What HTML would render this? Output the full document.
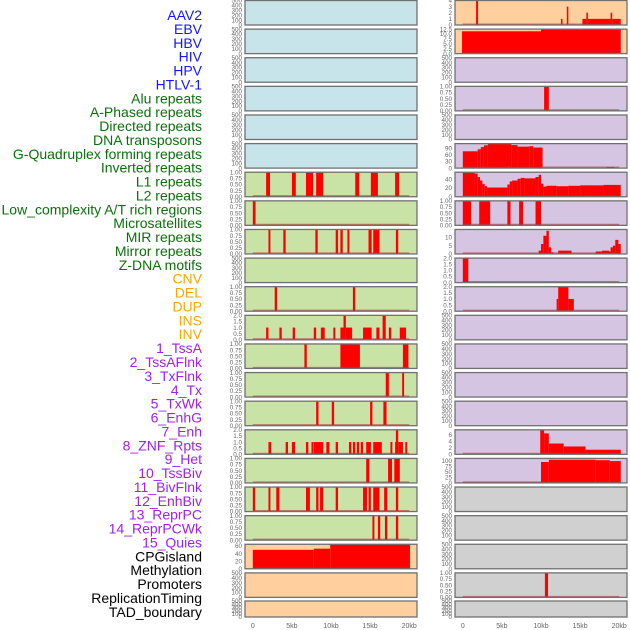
<!DOCTYPE html>
<html><head><meta charset="utf-8">
<style>
html,body{margin:0;padding:0;background:#fff;}
svg{display:block;font-family:"Liberation Sans",sans-serif;}
</style></head>
<body>
<svg id="chart" width="630" height="630" viewBox="0 0 630 630" xmlns="http://www.w3.org/2000/svg"></svg>
<script>
// ---- labels ----
const labels = ["AAV2","EBV","HBV","HIV","HPV","HTLV-1","Alu repeats","A-Phased repeats","Directed repeats","DNA transposons","G-Quadruplex forming repeats","Inverted repeats","L1 repeats","L2 repeats","Low_complexity A/T rich regions","Microsatellites","MIR repeats","Mirror repeats","Z-DNA motifs","CNV","DEL","DUP","INS","INV","1_TssA","2_TssAFlnk","3_TxFlnk","4_Tx","5_TxWk","6_EnhG","7_Enh","8_ZNF_Rpts","9_Het","10_TssBiv","11_BivFlnk","12_EnhBiv","13_ReprPC","14_ReprPCWk","15_Quies","CPGisland","Methylation","Promoters","ReplicationTiming","TAD_boundary"];
const labelColors = [].concat(Array(6).fill("#1515ff"),Array(13).fill("#0b700b"),Array(5).fill("#ffa500"),Array(15).fill("#a020f0"),Array(5).fill("#000000"));

// ---- x axis ----
const xTicks = [0,5000,10000,15000,20000];
const xTickLabels = ["0","5kb","10kb","15kb","20kb"];

// ---- tick sets ----
const ticksEmpty = [0,100,200,300,400,500];
const ticksOne = [0,0.25,0.5,0.75,1];
const ticksTwo = [0,0.5,1,1.5,2];

// ---- left column track intervals [startKb, endKb, value] ----
const leftAlu = [[1.7,2.2,1],[5.0,5.5,1],[6.8,7.7,1],[8.1,9.0,1],[13.1,13.6,1],[15.1,16.0,1],[18.2,18.7,1]];
const leftR7 = [[0,0.35,1]];
const leftR8 = [[2.0,2.25,1],[3.9,4.2,1],[8.0,8.3,1],[10.6,10.9,1],[11.2,11.5,1],[12.1,12.35,1],[14.8,15.2,1],[15.4,16.2,1],[18.3,18.6,1]];
const leftR10 = [[2.8,3.1,1],[12.8,13.1,1]];
const leftR11 = [[1.7,2.0,1],[3.4,3.7,1],[5.1,5.4,1],[7.8,8.1,1],[8.7,9.2,1],[10.3,10.55,1],[11.2,11.6,1],[11.6,11.9,2],[11.9,12.7,1],[14.1,15.2,1],[15.8,16.2,1],[16.6,17.0,2],[17.4,17.7,1],[18.8,19.6,1]];
const leftR12 = [[6.6,6.9,1],[11.2,13.7,1],[19.2,19.9,1]];
const leftR13 = [[17.0,17.4,1],[19.1,19.35,1]];
const leftR14 = [[8.1,8.4,1],[10.1,10.4,1],[15.0,15.3,1],[16.7,17.1,1]];
const leftR15 = [[2.0,2.35,1],[4.2,4.5,1],[5.0,5.4,1],[6.8,7.1,1],[7.5,7.75,1],[7.8,9.0,1],[9.4,9.8,1],[10.6,10.9,1],[12.3,12.6,1],[12.8,13.1,1],[13.3,13.6,1],[13.8,14.1,1],[14.5,15.1,1],[15.4,16.5,1],[17.6,17.85,1],[18.2,18.3,1],[18.3,18.6,2],[18.6,19.2,1],[19.5,19.75,1]];
const leftR16 = [[14.5,14.9,1],[17.3,17.8,1],[18.1,18.8,1]];
const leftR17 = [[0,0.3,1],[2.0,2.25,1],[3.0,3.4,1],[6.8,7.3,1],[8.1,8.4,1],[8.6,9.0,1],[10.6,10.9,1],[14.1,14.6,1],[14.8,15.1,1],[15.4,16.2,1],[16.8,17.2,1],[18.3,18.6,1]];
const leftR18 = [[15.3,15.55,1],[16.0,16.3,1],[16.9,17.2,1],[18.3,18.6,1]];
const leftCpg = [[0,7.8,50],[7.8,9.9,53],[9.9,20.1,66]];

// ---- right column track intervals ----
const rightRep = [[1.7,1.95,4],[12.55,12.75,1],[13.3,13.5,3],[15.3,15.8,1],[15.8,16.0,2],[16.0,18.9,1],[18.9,19.1,2],[19.1,20.2,1]];
const rightTad = [[-0.1,10.0,11.4],[10.0,20.2,12.5]];
const rightR3 = [[10.4,11.0,1]];
const rightR5 = [[0,1.9,76],[1.9,2.3,85],[2.3,2.7,95],[2.7,3.2,103],[3.2,6.2,110],[6.2,7.0,104],[7.0,8.5,97],[8.5,9.0,99],[9.0,10.2,93],[18.4,19.4,5]];
const rightR6 = [[0,1.5,55],[1.5,1.9,53],[1.9,2.2,45],[2.2,2.5,37],[2.5,2.8,29],[2.8,3.1,24],[3.1,5.7,21],[5.7,6.0,28],[6.0,6.3,35],[6.3,7.0,37],[7.0,7.4,41],[7.4,7.9,43],[7.9,9.3,42],[9.3,9.7,45],[9.7,10.0,50],[10.0,10.3,30],[10.3,10.7,23],[10.7,12.0,25],[12.0,13.5,24],[13.5,15.0,25],[15.0,18.0,26],[18.0,20.2,27]];
const rightR7 = [[0,1.05,1],[2.1,3.5,1],[5.7,6.1,1],[7.2,7.7,1],[9.3,10.0,1]];
const rightR8 = [[9.7,10.0,2],[10.0,10.3,6],[10.3,10.7,11],[10.7,11.0,14],[11.0,11.3,4],[11.3,11.6,1],[12.2,13.9,2],[17.0,17.8,1.5],[17.8,18.7,2],[18.7,18.9,1.5],[18.9,19.2,4],[19.2,19.5,5],[19.5,19.9,8.5],[19.9,20.2,6]];
const rightR9 = [[0,0.7,2]];
const rightR10 = [[12.0,12.2,1],[12.2,13.5,2],[13.5,14.2,1]];
const rightR15 = [[9.9,10.4,7.4],[10.4,11.0,6.4],[11.0,12.9,3.3],[12.9,15.7,2.4],[15.7,20.2,1.4]];
const rightR16 = [[0,10.0,3],[10.0,11.0,94],[11.0,17.0,104],[17.0,18.8,102],[18.8,20.2,98]];
const rightR20 = [[10.5,10.9,1]];

// ---- track definitions (column, row, data, ymax, ticks, tickLabels, fill) ----
const BLUE="#c7e4eb",GREEN="#c9e2a6",ORANGE="#ffd09e",PURPLE="#d5c5e2",GREY="#d0d0d0";
const tracks = [];
function T(col,row,data,ymax,ticks,tl,fill,name){tracks.push({col,row,data,ymax,ticks,tl,fill,name});}
const E = null;
const tlEmpty=["0","100","200","300","400","500"], tlOne=["0.00","0.25","0.50","0.75","1.00"], tlTwo=["0.0","0.5","1.0","1.5","2.0"];
for(let i=0;i<6;i++) T(0,i,E,500,ticksEmpty,tlEmpty,BLUE,"virus-"+i);
const leftRepData=[leftAlu,leftR7,leftR8,E,leftR10,leftR11,leftR12,leftR13,leftR14,leftR15,leftR16,leftR17,leftR18];
leftRepData.forEach((d,k)=>{
  const two = (k===5||k===9);
  if(!d) T(0,6+k,E,500,ticksEmpty,tlEmpty,GREEN,"left-track-"+(6+k));
  else if(two) T(0,6+k,d,2,ticksTwo,tlTwo,GREEN,"left-track-"+(6+k));
  else T(0,6+k,d,1,ticksOne,tlOne,GREEN,"left-track-"+(6+k));
});
T(0,19,leftCpg,64.6,[0,20,40,60],["0","20","40","60"],ORANGE,"cpg-track");
T(0,20,E,500,ticksEmpty,tlEmpty,ORANGE,"left-track-20");
T(0,21,E,500,ticksEmpty,tlEmpty,ORANGE,"left-track-21");
T(1,0,rightRep,4,[0,1,2,3,4],["0","1","2","3","4"],ORANGE,"right-track-0");
T(1,1,rightTad,12.5,[0,2.5,5,7.5,10,12.5],["0.0","2.5","5.0","7.5","10.0","12.5"],ORANGE,"right-track-1");
const rightMid = {3:[rightR3,1,ticksOne,tlOne],5:[rightR5,110.7,[0,30,60,90],["0","30","60","90"]],6:[rightR6,56,[0,20,40],["0","20","40"]],7:[rightR7,1,ticksOne,tlOne],8:[rightR8,14.8,[0,5,10],["0","5","10"]],9:[rightR9,2,ticksTwo,tlTwo],10:[rightR10,2,ticksTwo,tlTwo],15:[rightR15,7.5,[0,2,4,6],["0","2","4","6"]],16:[rightR16,110,[0,25,50,75,100],["0","25","50","75","100"]],20:[rightR20,1,ticksOne,tlOne]};
for(let r=2;r<22;r++){
  const fill = r<=16?PURPLE:GREY;
  const m = rightMid[r];
  if(m) T(1,r,m[0],m[1],m[2],m[3],fill,"right-track-"+r);
  else T(1,r,E,500,ticksEmpty,tlEmpty,fill,"right-track-"+r);
}

// ---- draw ----
const NS="http://www.w3.org/2000/svg";
const svg=document.getElementById("chart");
function mk(tag,attrs,parent){const e=document.createElementNS(NS,tag);for(const k in attrs)e.setAttribute(k,attrs[k]);(parent||svg).appendChild(e);return e;}
const colX=[245,455], panelW=172;
function rowTop(r){return r<21?0.5+r*28.62:601;}
function rowH(r){return r<21?24.5:16;}
function xScale(col,kb){return colX[col]+(kb*1000+1000)/22000*panelW;}

labels.forEach((t,i)=>{
  const el=mk("text",{x:202,y:20+i*13.88,"text-anchor":"end","font-size":"14",fill:labelColors[i]});
  
  
  el.textContent=t;
});

tracks.forEach(tr=>{
  const g=mk("g",{});
  
  
  const x0=colX[tr.col], y0=rowTop(tr.row), h=rowH(tr.row);
  const yS=v=>y0+h-v/tr.ymax*h;
  mk("rect",{x:x0,y:y0,width:panelW,height:h,fill:tr.fill},g);
  if(tr.data){
    tr.data.forEach(d=>{
      const xa=xScale(tr.col,d[0]), xb=xScale(tr.col,d[1]);
      const yt=Math.max(y0,yS(d[2]));
      const b=mk("rect",{x:xa,y:yt,width:Math.max(1.2,xb-xa),height:y0+h-yt,fill:"#ff0000"},g);
      
      
    });
    mk("line",{x1:xScale(tr.col,0),x2:xScale(tr.col,20),y1:y0+h-0.8,y2:y0+h-0.8,stroke:"#b03030","stroke-opacity":"0.6","stroke-width":"1.5"},g);
  }
  mk("rect",{x:x0,y:y0,width:panelW,height:h,fill:"none",stroke:"#707070","stroke-width":"1.3"},g);
  tr.ticks.forEach((v,k)=>{
    const t=mk("text",{x:x0-3,y:yS(v)+2.2,"text-anchor":"end","font-size":"6.3",fill:"#666"},g);
    
    
    t.textContent=tr.tl[k];
  });
});

[0,1].forEach(col=>{
  xTicks.forEach((v,k)=>{
    const t=mk("text",{x:xScale(col,v/1000),y:628,"text-anchor":"middle","font-size":"7",fill:"#666"});
    
    
    t.textContent=xTickLabels[k];
  });
});
</script>
</body></html>
